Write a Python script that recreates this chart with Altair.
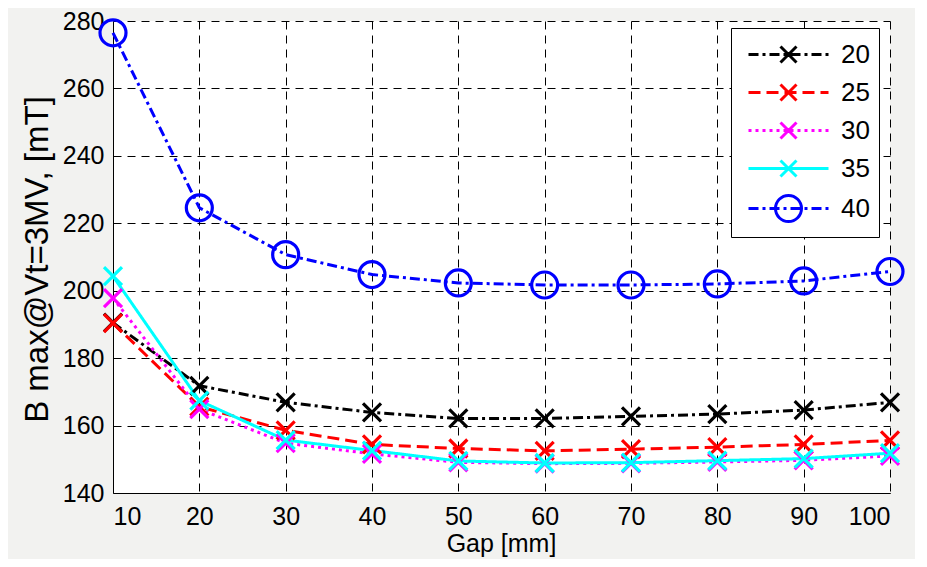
import altair as alt
import pandas as pd

# ---------------- data ----------------
gaps = [10, 20, 30, 40, 50, 60, 70, 80, 90, 100]
series_names = ["20", "25", "30", "35", "40"]
b20 = [190.5, 171.8, 166.9, 163.9, 162.1, 162.1, 162.7, 163.4, 164.6, 166.9]
b25 = [190.4, 165.6, 158.6, 154.4, 153.2, 152.5, 153.0, 153.6, 154.4, 155.6]
b30 = [197.8, 164.9, 154.8, 151.6, 149.1, 148.7, 148.8, 149.2, 149.7, 151.0]
b35 = [204.3, 167.4, 155.7, 152.6, 149.5, 148.9, 149.0, 149.6, 150.2, 151.8]
b40 = [276.5, 224.6, 210.7, 204.8, 202.3, 201.7, 201.7, 202.0, 202.9, 205.7]
x_ticks = [10, 20, 30, 40, 50, 60, 70, 80, 90, 100]
y_ticks = [140, 160, 180, 200, 220, 240, 260, 280]

colors = ["#000000", "#ff0000", "#ff00ff", "#00ffff", "#0000ff"]
dashes = [[10, 4, 3, 4], [12, 6], [3, 4], [1, 0], [10, 4, 3, 4]]

rows = []
for name, vals in zip(series_names, [b20, b25, b30, b35, b40]):
    for g, v in zip(gaps, vals):
        rows.append({"gap": g, "B": v, "series": name})
df = pd.DataFrame(rows)

# ---------------- legend symbols (line + marker drawn as one path) ----------------
U = 16.0  # px per path unit for symbolSize 1024
L0, L1, MC = -9.0, 71.0, 31.0


def f(v):
    return f"{v / U:.4f}"


def line_path(pattern):
    parts = []
    pos = L0
    i = 0
    while pos < L1:
        seg = pattern[i % len(pattern)]
        if i % 2 == 0 and seg > 0:
            parts.append(f"M{f(pos)},0L{f(min(pos + seg, L1))},0")
        pos += seg
        i += 1
    return "".join(parts)


def x_path(h=8.0):
    return (f"M{f(MC - h)},{f(-h)}L{f(MC + h)},{f(h)}"
            f"M{f(MC - h)},{f(h)}L{f(MC + h)},{f(-h)}")


def o_path(r=13.0):
    return (f"M{f(MC + r)},0A{f(r)},{f(r)},0,1,1,{f(MC - r)},0"
            f"A{f(r)},{f(r)},0,1,1,{f(MC + r)},0")


legend_shapes = [
    line_path(dashes[0]) + x_path(),
    line_path(dashes[1]) + x_path(),
    line_path(dashes[2]) + x_path(),
    line_path([80, 0]) + x_path(),
    line_path(dashes[4]) + o_path(),
]

FONT = "Liberation Sans, Arial, Helvetica"

legend = alt.Legend(
    title=None, orient="none", legendX=618, legendY=7,
    symbolSize=1024, symbolStrokeWidth=3, symbolOpacity=1,
    labelFont=FONT, labelFontSize=26, labelColor="black", labelOffset=66,
    padding=9, rowPadding=6, strokeColor="black", fillColor="white",
)

color_scale = alt.Scale(domain=series_names, range=colors)
color_enc = alt.Color("series:N", scale=color_scale, legend=legend, sort=series_names)

x_enc = alt.X(
    "gap:Q",
    scale=alt.Scale(domain=[10, 100], nice=False, zero=False),
    axis=alt.Axis(
        values=x_ticks, title="Gap [mm]", format="d",
        titleX=388, titleY=50, titleAlign="center", titleBaseline="middle",
        labelPadding=11,
    ),
)
y_enc = alt.Y(
    "B:Q",
    scale=alt.Scale(domain=[140, 280], nice=False, zero=False),
    axis=alt.Axis(
        values=y_ticks, title="B max@Vt=3MV, [mT]", format="d",
        titleX=-76, titleY=238, titleAngle=270, titleAlign="center",
        titleBaseline="middle", titleFontSize=33,
        labelPadding=9,
    ),
)

base = alt.Chart(df)

line_layers = []
for name, dash in zip(series_names, dashes):
    line_layers.append(
        base.transform_filter(f"datum.series == '{name}'").mark_line(
            strokeWidth=3, strokeCap="butt", strokeDash=dash, clip=False
        ).encode(x=x_enc, y=y_enc, color=color_enc, order=alt.Order("gap:Q"))
    )

xmarks = base.transform_filter("datum.series != '40'").mark_point(
    shape="M-1,-1L1,1M-1,1L1,-1", size=324, strokeWidth=3.2, filled=False,
    opacity=1, clip=False,
).encode(x=x_enc, y=y_enc, color=color_enc)

omarks = base.transform_filter("datum.series == '40'").mark_point(
    shape="circle", size=676, strokeWidth=3.2, filled=False, opacity=1, clip=False,
).encode(x=x_enc, y=y_enc, color=color_enc)

legend_layer = base.transform_filter("datum.gap < 0").mark_point(
    filled=False, opacity=1, strokeWidth=3,
).encode(
    x=x_enc, y=y_enc, color=color_enc,
    shape=alt.Shape("series:N", scale=alt.Scale(domain=series_names, range=legend_shapes),
                    legend=legend),
)

chart = alt.layer(*line_layers, xmarks, omarks, legend_layer).properties(
    width=777, height=472,
    autosize=alt.AutoSizeParams(type="none"),
    padding={"left": 105, "top": 13, "right": 25, "bottom": 66},
    background="#f2f2f0",
).configure_view(stroke=None, fill="white").configure_axis(
    labelFont=FONT, labelFontSize=25, labelColor="black",
    titleFont=FONT, titleFontSize=25, titleColor="black", titleFontWeight="normal",
    domainColor="black", domainWidth=1, ticks=False, tickSize=0,
    grid=True, gridColor="black", gridDash=[8, 6], gridOpacity=1, gridWidth=1,
)

chart.save("out.html", embed_options={"renderer": "svg", "actions": False})
